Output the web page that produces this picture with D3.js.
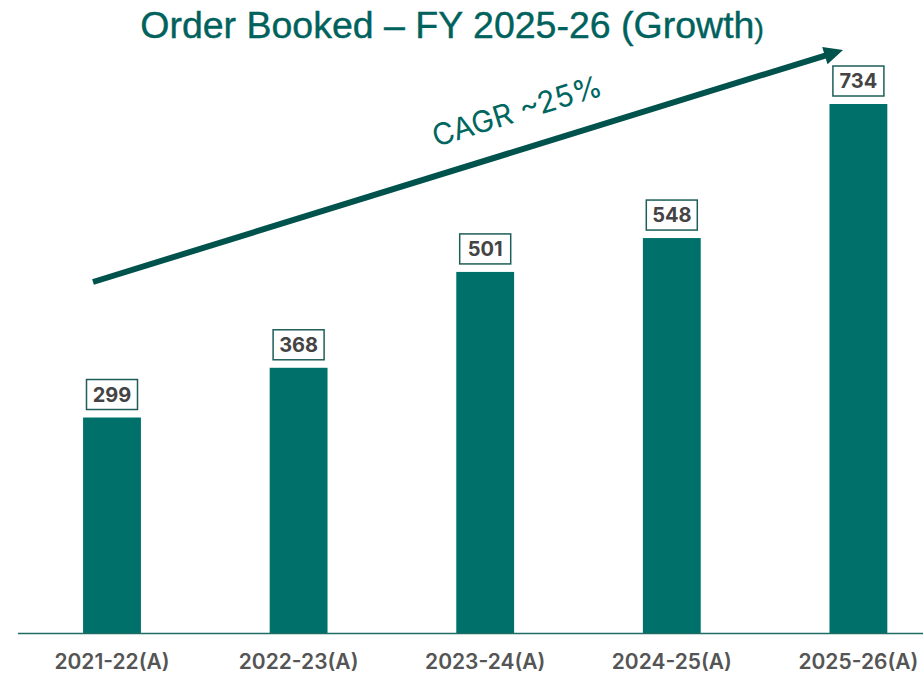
<!DOCTYPE html>
<html>
<head>
<meta charset="utf-8">
<script src="https://cdn.jsdelivr.net/npm/d3@7"></script>
<style>
  body { margin: 0; background: #fff; }
</style>
</head>
<body>
<div id="chart"></div>
<script>
var years = ["2021-22(A)", "2022-23(A)", "2023-24(A)", "2024-25(A)", "2025-26(A)"];
var orders = [299, 368, 501, 548, 734];
var cagrLabel = "CAGR ~25%";

var svgWidth = 923;
var svgHeight = 675;
var margin = { top: 104, right: 0, bottom: 42, left: 18 };
var width = svgWidth - margin.left - margin.right;
var height = svgHeight - margin.top - margin.bottom;

var svg = d3.select("#chart").append("svg")
  .attr("width", svgWidth)
  .attr("height", svgHeight);

var chartGroup = svg.append("g")
  .attr("transform", `translate(${margin.left}, ${margin.top})`);

// band scale: centres at 112, 298, 485, 671, 858
var xScale = d3.scaleBand()
  .domain(years)
  .range([-0.5 * 186.6 + 94, 94 + 4.5 * 186.6])
  .paddingInner(0.69)
  .paddingOuter(0.345);

var yScale = d3.scaleLinear()
  .domain([0, 734])
  .range([height, 0]);

// bars
chartGroup.selectAll("rect.bar")
  .data(orders)
  .enter()
  .append("rect")
  .attr("class", "bar")
  .attr("x", (d, i) => xScale(years[i]))
  .attr("y", d => yScale(d))
  .attr("width", xScale.bandwidth())
  .attr("height", d => height - yScale(d))
  .attr("fill", "#00716a");

// baseline
chartGroup.append("line")
  .attr("x1", 0)
  .attr("x2", width)
  .attr("y1", height + 0.5)
  .attr("y2", height + 0.5)
  .attr("stroke", "#1f6b66")
  .attr("stroke-width", 1.5);

// x labels
var xAxis = d3.axisBottom(xScale).tickSize(0).tickPadding(21);
var xg = chartGroup.append("g")
  .attr("transform", `translate(0, ${height})`)
  .call(xAxis);
xg.select(".domain").remove();
xg.selectAll("text")
  .attr("font-family", "Inter, 'Noto Sans', sans-serif")
  .attr("font-size", 21)
  .attr("font-weight", 600)
  .attr("fill", "#555");

// value boxes
var boxW = 51, boxH = 30;
var labels = chartGroup.selectAll("g.val")
  .data(orders)
  .enter()
  .append("g")
  .attr("class", "val")
  .attr("transform", (d, i) => `translate(${xScale(years[i]) + xScale.bandwidth() / 2}, ${yScale(d) - 8 - boxH / 2})`);

labels.append("rect")
  .attr("x", -boxW / 2)
  .attr("y", -boxH / 2)
  .attr("width", boxW)
  .attr("height", boxH)
  .attr("fill", "#fff")
  .attr("stroke", "#1d5e5a")
  .attr("stroke-width", 1.5);

labels.append("text")
  .attr("text-anchor", "middle")
  .attr("dy", "0.36em")
  .attr("font-family", "Inter, 'Noto Sans', sans-serif")
  .attr("font-size", 20)
  .attr("font-weight", 700)
  .attr("fill", "#444")
  .text(d => d);

// title
var title = svg.append("text")
  .attr("x", 452)
  .attr("y", 38)
  .attr("text-anchor", "middle")
  .attr("font-family", "'Liberation Sans', Arial, sans-serif")
  .attr("font-size", 37.5)
  .attr("fill", "#00625c")
  .attr("stroke", "#00625c")
  .attr("stroke-width", 0.4);
title.append("tspan").text("Order Booked \u2013 FY 2025-26 (Growth");
title.append("tspan").attr("font-size", 28).text(")");

// growth arrow
var ax1 = 93, ay1 = 282, ax2 = 843, ay2 = 50;
var ang = Math.atan2(ay2 - ay1, ax2 - ax1);
var headLen = 19, headHalf = 9;
var bx = ax2 - headLen * Math.cos(ang), by = ay2 - headLen * Math.sin(ang);
var nx = -Math.sin(ang), ny = Math.cos(ang);

svg.append("line")
  .attr("x1", ax1).attr("y1", ay1)
  .attr("x2", bx + 2 * Math.cos(ang)).attr("y2", by + 2 * Math.sin(ang))
  .attr("stroke", "#00524c")
  .attr("stroke-width", 6);

svg.append("path")
  .attr("d", d3.line()([[ax2, ay2], [bx + nx * headHalf, by + ny * headHalf], [bx - nx * headHalf, by - ny * headHalf]]) + "Z")
  .attr("fill", "#00524c");

var angle = ang * 180 / Math.PI;
svg.append("text")
  .attr("transform", `translate(520, 121) rotate(${angle})`)
  .attr("text-anchor", "middle")
  .attr("font-family", "Inter, 'Noto Sans', sans-serif")
  .attr("font-size", 30)
  .attr("fill", "#00665f")
  .text(cagrLabel);
</script>
</body>
</html>
